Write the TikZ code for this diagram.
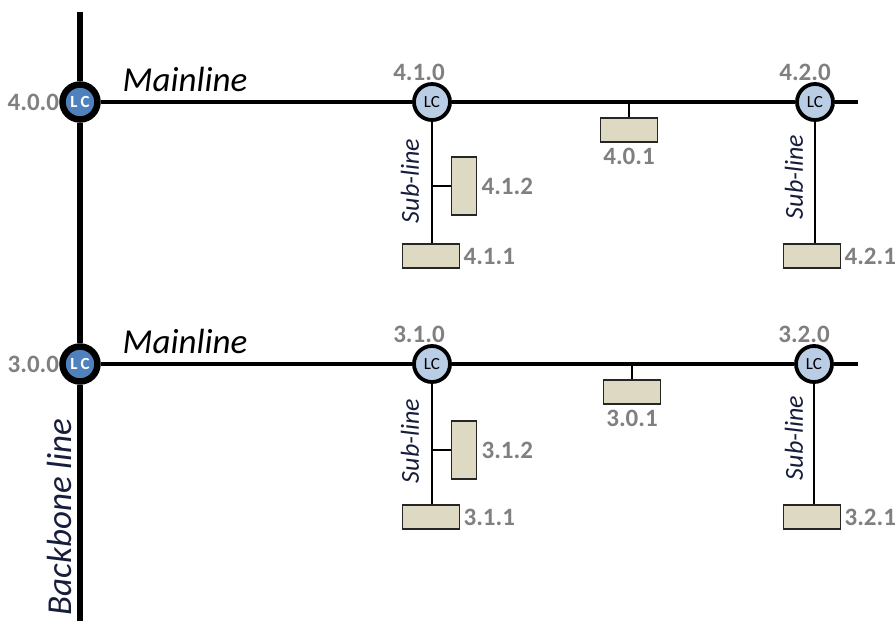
\documentclass[tikz,border=0pt]{standalone}
\usepackage{fontspec}
\setmainfont{Carlito}
\usetikzlibrary{positioning}
\definecolor{lcdark}{RGB}{79,129,189}
\definecolor{lclight}{RGB}{185,205,229}
\definecolor{devtan}{RGB}{221,217,195}
\definecolor{addrgray}{RGB}{128,128,128}
\definecolor{bbtext}{RGB}{23,30,60}

\begin{document}
\begin{tikzpicture}[x=1pt,y=-1pt,
 lcbig/.style={circle,draw=black,line width=6.5pt,fill=lcdark,minimum size=35pt,inner sep=0pt,text=white,font=\fontsize{17}{17}\selectfont\bfseries},
 lcsmall/.style={circle,draw=black,line width=3.8pt,fill=lclight,minimum size=36pt,inner sep=0pt,font=\fontsize{17}{17}\selectfont},
 devh/.style={draw=black!85,line width=1.8pt,fill=devtan,minimum width=57pt,minimum height=24pt,inner sep=0pt},
 devv/.style={devh,minimum width=25pt,minimum height=58pt},
 addr/.style={text=addrgray,font=\fontsize{25}{25}\selectfont\bfseries,inner sep=1pt},
 bigtext/.style={font=\fontsize{35}{35}\selectfont\itshape},
 subtext/.style={font=\fontsize{26}{26}\selectfont\itshape,rotate=90,text=bbtext}]
 \useasboundingbox (0,0) rectangle (896,621);
 \def\rA{102} % upper mainline
 \def\rB{364} % lower mainline
 \coordinate (bbtop) at (80,12);
 \coordinate (bbend) at (80,621);
 \coordinate (endA) at (858,\rA);
 \coordinate (endB) at (858,\rB);
% line couplers
 \node[lcbig] (lc400) at (80,\rA) {L\,C};
 \node[lcbig] (lc300) at (80,\rB) {L\,C};
 \node[lcsmall] (lc410) at (432,\rA) {LC};
 \node[lcsmall] (lc420) at (815,\rA) {LC};
 \node[lcsmall] (lc310) at (432,\rB) {LC};
 \node[lcsmall] (lc320) at (814,\rB) {LC};
% devices
 \node[devh] (dev401) at (629,130) {};
 \node[devh] (dev411) at (431,256) {};
 \node[devv] (dev412) at (464,186) {};
 \node[devh] (dev421) at (812,256) {};
 \node[devh] (dev301) at (632,392) {};
 \node[devh] (dev311) at (431,517) {};
 \node[devv] (dev312) at (464,450) {};
 \node[devh] (dev321) at (812,517) {};
 \coordinate (tap401) at (dev401.north |- lc410);
 \coordinate (tap412) at (lc410 |- dev412.west);
 \coordinate (tap301) at (dev301.north |- lc310);
 \coordinate (tap312) at (lc310 |- dev312.west);
% backbone line
 \draw[line width=6pt] (bbtop) -- (lc400.north);
 \draw[line width=6pt] (lc400.south) -- (lc300.north);
 \draw[line width=6pt] (lc300.south) -- (bbend);
% mainlines
 \draw[line width=4pt] (lc400.east) -- (lc410.west);
 \draw[line width=4pt] (lc410.east) -- (lc420.west);
 \draw[line width=4pt] (lc420.east) -- (endA);
 \draw[line width=4pt] (lc300.east) -- (lc310.west);
 \draw[line width=4pt] (lc310.east) -- (lc320.west);
 \draw[line width=4pt] (lc320.east) -- (endB);
% sub-lines
 \draw[line width=1.8pt] (tap401) -- (dev401.north);
 \draw[line width=1.8pt] (lc410.south) -- (lc410 |- dev411.north);
 \draw[line width=1.8pt] (tap412) -- (dev412.west);
 \draw[line width=1.8pt] (lc420.south) -- (lc420 |- dev421.north);
 \draw[line width=1.8pt] (tap301) -- (dev301.north);
 \draw[line width=1.8pt] (lc310.south) -- (lc310 |- dev311.north);
 \draw[line width=1.8pt] (tap312) -- (dev312.west);
 \draw[line width=1.8pt] (lc320.south) -- (lc320 |- dev321.north);
% addresses
 \node[addr,left=-1pt of lc400] (t400) {4.0.0};
 \node[addr,above=0pt of lc410,xshift=-13pt] (t410) {4.1.0};
 \node[addr,above=0pt of lc420,xshift=-10pt] (t420) {4.2.0};
 \node[addr,below=4pt of dev401] (t401) {4.0.1};
 \node[addr,right=3pt of dev412] (t412) {4.1.2};
 \node[addr,right=2pt of dev411] (t411) {4.1.1};
 \node[addr,right=2pt of dev421] (t421) {4.2.1};
 \node[addr,left=-1pt of lc300] (t300) {3.0.0};
 \node[addr,above=0pt of lc310,xshift=-13pt] (t310) {3.1.0};
 \node[addr,above=0pt of lc320,xshift=-10pt] (t320) {3.2.0};
 \node[addr,below=4pt of dev301] (t301) {3.0.1};
 \node[addr,right=3pt of dev312] (t312) {3.1.2};
 \node[addr,right=2pt of dev311] (t311) {3.1.1};
 \node[addr,right=2pt of dev321] (t321) {3.2.1};
% line names
 \node[bigtext] (mlA) at (185,79) {Mainline};
 \node[bigtext] (mlB) at (185,341) {Mainline};
 \node[subtext] (slA1) at (410,181) {Sub-line};
 \node[subtext] (slA2) at (794,177) {Sub-line};
 \node[subtext] (slB1) at (410,441) {Sub-line};
 \node[subtext] (slB2) at (794,438) {Sub-line};
 \node[bigtext,rotate=90,text=bbtext] (bbl) at (59,517) {Backbone line};
\end{tikzpicture}
\end{document}
